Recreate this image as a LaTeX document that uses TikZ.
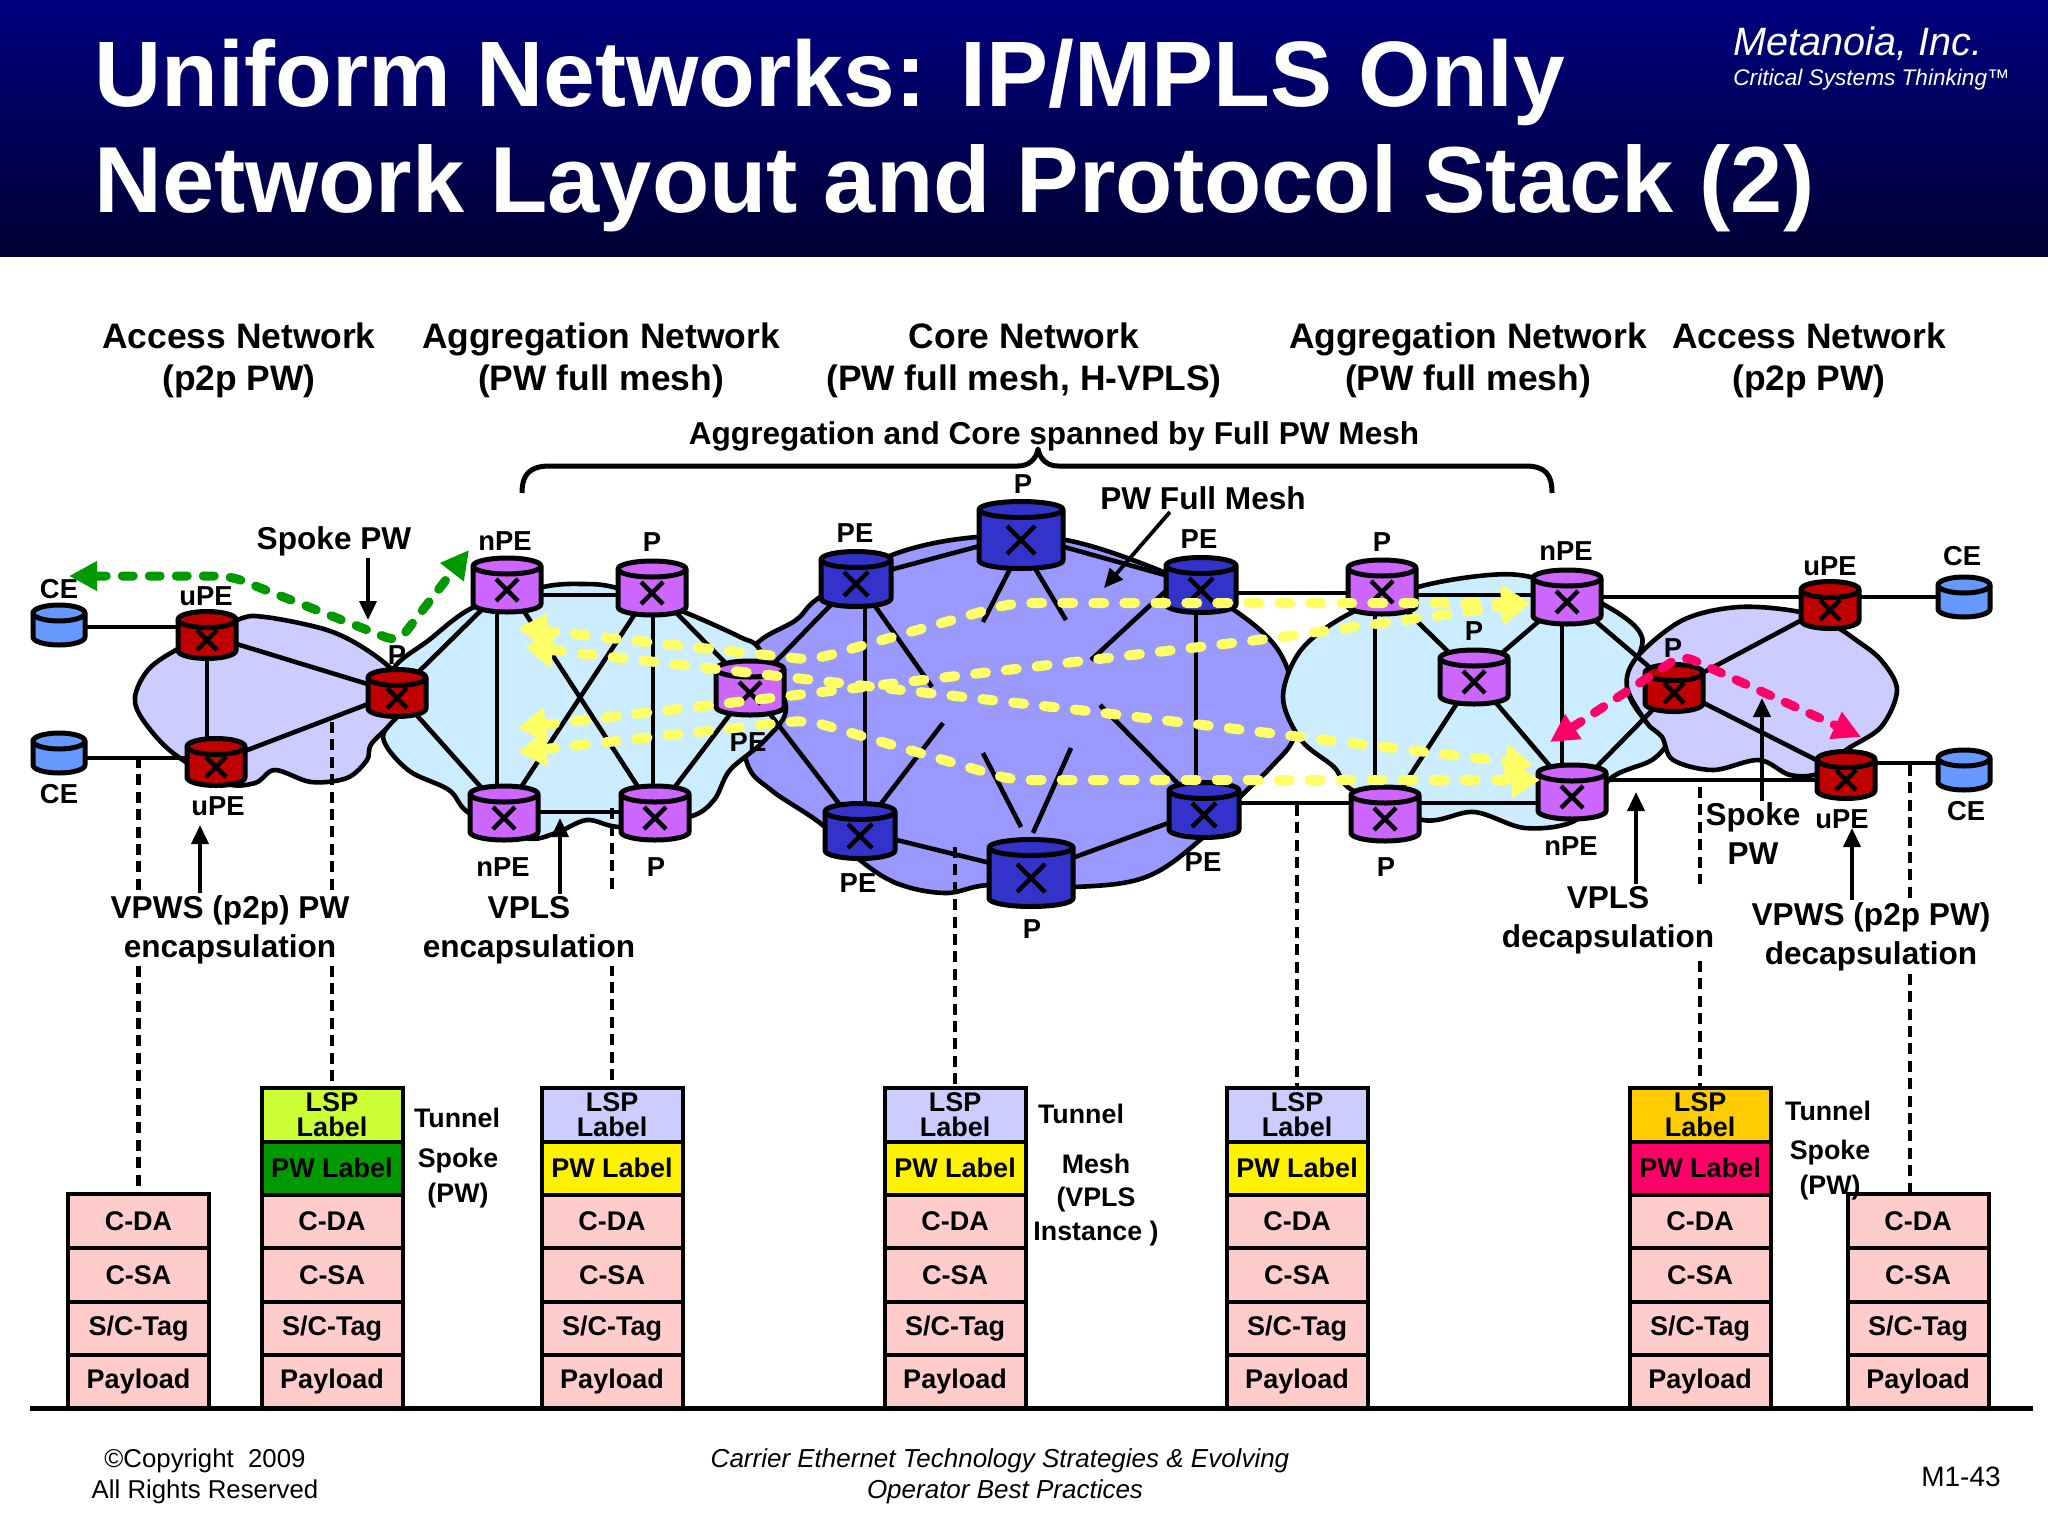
\documentclass[tikz,border=0pt]{standalone}
\usepackage{fontspec}
\setmainfont{Liberation Sans}
\usetikzlibrary{arrows.meta,calc}
\pgfdeclarelayer{clouds}
\pgfdeclarelayer{links}
\pgfsetlayers{clouds,links,main}

\definecolor{navyTop}{HTML}{000080}
\definecolor{navyBot}{HTML}{000033}
\definecolor{lavCloud}{HTML}{CCCCFF}
\definecolor{iceCloud}{HTML}{CCECFF}
\definecolor{coreCloud}{HTML}{9999FF}
\definecolor{redNode}{HTML}{C00000}
\definecolor{magNode}{HTML}{CC66FF}
\definecolor{bluNode}{HTML}{3333CC}
\definecolor{ceNode}{HTML}{6699FF}
\definecolor{pinkCell}{HTML}{FFCCCC}
\definecolor{meshYel}{HTML}{FFFF66}
\definecolor{spokeGrn}{HTML}{009900}
\definecolor{spokePnk}{HTML}{FF0066}
\definecolor{cLimeA}{HTML}{CCFF33}
\definecolor{cGrnA}{HTML}{009900}
\definecolor{cAmbA}{HTML}{FFCC00}

\tikzset{
  cylo/.style={draw=black, line width=2.5pt, line join=round},
  cloud/.style={draw=black, line width=2.3pt, line join=round},
  link/.style={draw=black, line width=2.3pt},
  xm/.style={draw=black, line width=2.2pt},
  dotted link/.style={draw=black, line width=2.4pt, dash pattern=on 5.5pt off 3.2pt},
  pointer/.style={draw=black, line width=1.9pt, -{Triangle[length=9.5pt,width=8.5pt]}},
  mesh/.style={draw=meshYel, line width=5pt, line cap=round, dash pattern=on 5.5pt off 10pt,
    rounded corners=8pt, {Triangle[length=14pt,width=17pt]}-{Triangle[length=14pt,width=17pt]}},
  spoke/.style={line width=4.5pt, line cap=round, dash pattern=on 5.5pt off 8pt,
    rounded corners=6pt, {Triangle[length=14pt,width=14pt]}-{Triangle[length=14pt,width=14pt]}},
  lab/.style={font=\bfseries\fontsize{13.7}{15}\selectfont, inner sep=0pt},
  txt/.style={font=\bfseries\fontsize{15.8}{19.5}\selectfont, align=center, inner sep=1pt},
  hdr/.style={font=\bfseries\fontsize{17.7}{21}\selectfont, align=center, inner sep=0pt},
  side/.style={font=\bfseries\fontsize{13.4}{17.5}\selectfont, align=center, inner sep=0pt},
  cell/.style={draw=black, line width=2pt, minimum width=70.5pt, minimum height=26.75pt,
    inner sep=0pt, align=center, font=\bfseries\fontsize{13.5}{12.5}\selectfont},
  foot/.style={font=\fontsize{12.9}{15.5}\selectfont, align=center, inner sep=0pt},
  ttl/.style={text=white, anchor=base west, inner sep=0pt},
}

% router drum: name, x, y, width (pt), height (pt), fill
\newcommand{\drum}[6]{%
  \node[inner sep=0pt, outer sep=0pt, minimum width=#4pt, minimum height=#5pt] (#1) at (#2,#3) {};
  \filldraw[cylo, fill=#6] ([yshift=-4pt]#1.north west) -- ([yshift=4pt]#1.south west)
    arc[start angle=180, end angle=360, x radius={#4*0.5pt}, y radius=4pt]
    -- ([yshift=-4pt]#1.north east)
    arc[start angle=0, end angle=180, x radius={#4*0.5pt}, y radius=4pt] -- cycle;
  \draw[cylo] ([yshift=-4pt]#1.north west)
    arc[start angle=180, end angle=360, x radius={#4*0.5pt}, y radius=4pt];
}

\begin{document}
\begin{tikzpicture}[x=0.5pt,y=-0.5pt]
\useasboundingbox (0,0) rectangle (2048,1536);

% header band
\shade[top color=navyTop, bottom color=navyBot] (0,0) rectangle (2048,256);
\node[ttl, font=\bfseries\fontsize{46.5}{50}\selectfont] (t1) at (94,106) {Uniform Networks: IP/MPLS Only};
\node[ttl, font=\bfseries\fontsize{46.9}{50}\selectfont] (t2) at (94,212) {Network Layout and Protocol Stack (2)};
\node[anchor=base west, inner sep=0pt, text=white, font=\itshape\fontsize{19.8}{22}\selectfont] (co) at (1733,56) {Metanoia, Inc.};
\node[anchor=base west, inner sep=0pt, text=white, font=\itshape\fontsize{11.3}{13}\selectfont] (co2) at (1733,86) {Critical Systems Thinking™};

% clouds
\begin{pgfonlayer}{clouds}
\filldraw[cloud, fill=coreCloud] plot[smooth cycle, tension=0.6] coordinates {
  (892,555) (977,537) (1066,540) (1166,573) (1231,608) (1276,647) (1294,693) (1294,737)
  (1271,767) (1240,797) (1200,840) (1146,877) (1075,887) (990,885) (945,893) (896,883)
  (856,857) (820,823) (771,790) (747,763) (740,700) (754,647) (796,620) (820,597)};
\filldraw[cloud, fill=lavCloud] plot[smooth cycle, tension=0.55] coordinates {
  (237,620) (265,617) (327,630) (367,650) (398,677) (403,710) (372,743) (367,760) (347,778)
  (311,782) (275,770) (255,783) (224,783) (173,753) (143,720) (135,697) (148,670) (176,650)};
\filldraw[cloud, fill=iceCloud] plot[smooth cycle, tension=0.55] coordinates {
  (543,587) (582,584) (617,588) (684,612) (740,637) (760,650) (786,707) (765,740) (730,770)
  (714,800) (689,817) (622,827) (587,820) (556,833) (525,838) (469,813) (449,790) (408,770)
  (383,737) (403,707) (393,670) (429,640) (474,607)};
\filldraw[cloud, fill=iceCloud] plot[smooth cycle, tension=0.55] coordinates {
  (1418,587) (1489,575) (1535,578) (1601,603) (1642,637) (1627,687) (1647,723) (1667,740)
  (1652,760) (1611,778) (1576,820) (1525,828) (1474,812) (1423,820) (1352,790) (1334,767)
  (1301,740) (1283,697) (1301,650) (1347,615)};
\filldraw[cloud, fill=lavCloud] plot[smooth cycle, tension=0.55] coordinates {
  (1800,612) (1739,607) (1683,620) (1637,657) (1627,687) (1647,723) (1662,737) (1673,760)
  (1713,770) (1759,760) (1790,775) (1820,773) (1846,750) (1881,727) (1897,690) (1881,660)
  (1856,640) (1836,627)};
\end{pgfonlayer}

% routers
\drum{ceA}{59}{625}{26}{20}{ceNode}
\drum{ceB}{59}{753}{26}{20}{ceNode}
\drum{ceC}{1964}{597}{26}{20}{ceNode}
\drum{ceD}{1964}{770}{26}{20}{ceNode}
\foreach \n/\px/\py in {upeA/207/635, upeB/216/762, prA/397/693, prB/1674/688, upeC/1830/605, upeD/1846/775}
  {\drum{\n}{\px}{\py}{29}{23.5}{redNode}}
\foreach \n/\px/\py in {npeA/507/585, pA/652/588, npeB/504/813, pB/655/813, pm/750/688,
    pC/1382/587, npeC/1567/597, pD/1474/677, pE/1385/814, npeD/1572/792}
  {\drum{\n}{\px}{\py}{34}{27}{magNode}}
\foreach \n/\px/\py in {peA/856/579, peB/1201/585, peC/860/831, peD/1204/810}
  {\drum{\n}{\px}{\py}{35}{27.5}{bluNode}}
\foreach \n/\px/\py in {ptop/1021/535, pbot/1031/873}
  {\drum{\n}{\px}{\py}{42}{33.5}{bluNode}}

% crosses in the router bodies
\foreach \n/\r in {upeA/10, upeB/10, prA/10, prB/10, upeC/10, upeD/10,
    npeA/11, pA/11, npeB/11, pB/11, pm/11, pC/11, npeC/11, pD/11, pE/11, npeD/11,
    peA/12, peB/12, peC/12, peD/12, ptop/14, pbot/14}
  \draw[xm] ([shift={(-\r,-\r+5)}]\n.center) -- ([shift={(\r,\r+5)}]\n.center)
            ([shift={(\r,-\r+5)}]\n.center) -- ([shift={(-\r,\r+5)}]\n.center);

% stub ends of the core mesh lines
\coordinate (stA) at (932,687);
\coordinate (stB) at (983,622);
\coordinate (stC) at (1066,620);
\coordinate (stD) at (1091,660);
\coordinate (stE) at (943,723);
\coordinate (stF) at (983,753);
\coordinate (stG) at (1071,748);
\coordinate (stH) at (1100,705);
\coordinate (roA) at (1012,565);
\coordinate (roB) at (1033,565);
\coordinate (roC) at (1021,827);
\coordinate (roD) at (1033,833);
\coordinate (roE) at (1170,587);

% links
\begin{pgfonlayer}{links}
\foreach \a/\b in {upeA/prA, upeB/prA, prA/npeA, prA/npeB,
    npeA/pB, npeB/pA, pA/pm, pB/pm, pm/peA, pm/peC,
    peA/ptop, ptop/peB, peC/pbot, pbot/peD, peA/stA,
    peC/stE, peD/stH, roA/stB, roB/stC, roC/stF, roD/stG, roE/stD,
    pC/pD, pE/pD, pD/npeC, pD/npeD, prB/npeC, prB/npeD, prB/upeC, prB/upeD}
  \draw[link] (\a.center) -- (\b.center);
% level runs between drums
\foreach \a/\b/\ly in {ceA/upeA/627, ceB/upeB/758, npeA/pA/595, npeB/pB/812, peB/pC/593, peD/pE/803,
    pC/npeC/595, pE/npeD/803, npeC/upeC/597, upeC/ceC/597, npeD/upeD/780, upeD/ceD/763}
  \draw[link] (\a.center |- 0,\ly) -- (\b.center |- 0,\ly);
% upright runs between drums
\foreach \a/\b/\lx in {upeA/upeB/207, npeA/npeB/497, pA/pB/653, peA/peC/865, peB/peD/1196,
    pC/pE/1375, npeC/npeD/1562}
  \draw[link] (\a.center -| \lx,0) -- (\b.center -| \lx,0);
\end{pgfonlayer}

% protocol stacks
\foreach \s/\sx in {a/138.5, b/332, c/612, d/955, e/1297, f/1700, g/1918} {
  \node[cell, fill=pinkCell] (\s1) at (\sx,1221) {C-DA};
  \node[cell, fill=pinkCell] (\s2) at (\sx,1275) {C-SA};
  \node[cell, fill=pinkCell] (\s3) at (\sx,1328.5) {S/C-Tag};
  \node[cell, fill=pinkCell] (\s4) at (\sx,1381.5) {Payload};
}
\foreach \s/\sx/\cl/\cp in {b/332/cLimeA/cGrnA, c/612/lavCloud/yellow, d/955/lavCloud/yellow,
    e/1297/lavCloud/yellow, f/1700/cAmbA/spokePnk} {
  \node[cell, fill=\cp] (\s L) at (\sx,1168) {PW Label};
  \node[cell, fill=\cl] (\s T) at (\sx,1115) {LSP\\Label};
}
\draw[draw=black, line width=2.5pt] (30,1408) -- (2033,1408);

% dashed drops from the network to the stacks
\coordinate (dA) at (138.5,757);
\coordinate (dB) at (332,722);
\coordinate (dC) at (612,808);
\coordinate (dD) at (955,847);
\coordinate (dE) at (1297,805);
\coordinate (dF) at (1700,787);
\coordinate (dG) at (1910,765);
\begin{pgfonlayer}{links}
\draw[dotted link] (dA) -- (dA |- a1.north);
\draw[dotted link] (dB) -- (dB |- bT.north);
\draw[dotted link] (dC) -- (dC |- cT.north);
\draw[dotted link] (dD) -- (dD |- dT.north);
\draw[dotted link] (dE) -- (dE |- eT.north);
\draw[dotted link] (dF) -- (dF |- fT.north);
\draw[dotted link] (dG) -- (dG |- g1.north);
\end{pgfonlayer}

% section headings
\node[hdr] (h1) at (239,360) {Access Network\\(p2p PW)};
\node[hdr] (h2) at (601,360) {Aggregation Network\\(PW full mesh)};
\node[hdr] (h3) at (1024,360) {Core Network\\(PW full mesh, H-VPLS)};
\node[hdr] (h4) at (1468,360) {Aggregation Network\\(PW full mesh)};
\node[hdr] (h5) at (1809,360) {Access Network\\(p2p PW)};
\node[txt] (span) at (1054,436) {Aggregation and Core spanned by Full PW Mesh};
\draw[draw=black, line width=2.5pt, line join=round]
  (522,493) .. controls (522,474) and (530,466) .. (550,466) -- (1018,466)
  .. controls (1028,466) and (1036,460) .. (1038,449)
  .. controls (1040,460) and (1048,466) .. (1058,466) -- (1525,466)
  .. controls (1545,466) and (1552,474) .. (1552,493);

% router names
\foreach \n/\px/\py/\t in {l1/59/589/CE, l2/206/596/uPE, l3/59/794/CE, l4/218/806/uPE, l5/397/655/P,
    l6/505/541/nPE, l7/652/542/P, l8/503/867/nPE, l9/656/867/P, l10/748/742/PE, l11/855/533/PE,
    l12/1023/484/P, l13/1199/539/PE, l14/1382/542/P, l15/1566/551/nPE, l16/1474/631/P,
    l17/858/883/PE, l18/1203/862/PE, l19/1032/929/P, l20/1386/867/P, l21/1571/846/nPE,
    l22/1830/566/uPE, l23/1962/556/CE, l24/1673/648/P, l25/1842/819/uPE, l26/1966/811/CE}
  \node[lab] (\n) at (\px,\py) {\t};

% callouts
\node[txt] (spokeL) at (334,541) {Spoke PW};
\node[txt] (fullL) at (1203,498) {PW Full Mesh};
\node[txt, fill=white] (vpwsL) at (230,930) {VPWS (p2p) PW\\encapsulation};
\node[txt, fill=white] (vplsL) at (529,930) {VPLS\\encapsulation};
\node[txt, fill=white] (vplsR) at (1608,920) {VPLS\\decapsulation};
\node[txt] (spokeR) at (1753,834) {Spoke\\PW};
\node[txt, fill=white] (vpwsR) at (1871,937) {VPWS (p2p PW)\\decapsulation};

\coordinate (aA) at (368,620);
\coordinate (aB) at (200,825);
\coordinate (aC) at (560,818);
\coordinate (aD) at (1104,588);
\coordinate (aE) at (1636,792);
\coordinate (aF) at (1762,698);
\coordinate (aG) at (1852,828);
\draw[pointer] (spokeL.south -| aA) -- (aA);
\draw[pointer] (vpwsL.north -| aB) -- (aB);
\draw[pointer] (vplsL.north -| aC) -- (aC);
\draw[pointer] (fullL.south west) ++(72,0) -- (aD);
\draw[pointer] (vplsR.north -| aE) -- (aE);
\draw[pointer] (spokeR.north -| aF) -- (aF);
\draw[pointer] (vpwsR.north -| aG) -- (aG);

% stack side notes
\node[side] (n1) at (457,1118) {Tunnel};
\node[side] (n2) at (458,1178) {Spoke\\(PW)};
\node[side] (n3) at (1081,1114) {Tunnel};
\node[side, font=\bfseries\fontsize{13.4}{16.7}\selectfont] (n4) at (1096,1200) {Mesh\\(VPLS\\Instance )};
\node[side] (n5) at (1828,1111) {Tunnel};
\node[side] (n6) at (1830,1170) {Spoke\\(PW)};

% pseudowire arrows
\coordinate (yA) at (518,628);
\coordinate (yB) at (525,647);
\coordinate (yC) at (518,728);
\coordinate (yD) at (518,752);
\coordinate (yE) at (1530,603);
\coordinate (yF) at (1533,765);
\coordinate (yG) at (1540,780);
\draw[mesh] (yA) -- (812,660) -- (1012,603) -- (yE);
\draw[mesh] (yB) -- (786,677) -- (1079,710) -- (yF);
\draw[mesh] (yC) -- (923,680) -- (1258,640) -- (yE);
\draw[mesh] (yD) -- (807,720) -- (1012,780) -- (yG);

\coordinate (gA) at (69,576);
\coordinate (gB) at (469,550);
\coordinate (kA) at (1550,742);
\coordinate (kB) at (1861,737);
\draw[spoke, draw=spokeGrn] (gA) -- (230,576) -- (398,642) -- (gB);
\draw[spoke, draw=spokePnk] (kA) -- (1682,655) -- (kB);

% footer
\node[foot] (f1) at (205,1476) {©Copyright\ \ 2009\\All Rights Reserved};
\node[foot, font=\itshape\fontsize{13}{15.5}\selectfont] (f2) at (1000,1476) {Carrier Ethernet Technology Strategies \& Evolving\\\hspace*{5pt}Operator Best Practices};
\node[foot, font=\fontsize{14}{16}\selectfont] (f3) at (1961,1477) {M1-43};
\end{tikzpicture}
\end{document}
